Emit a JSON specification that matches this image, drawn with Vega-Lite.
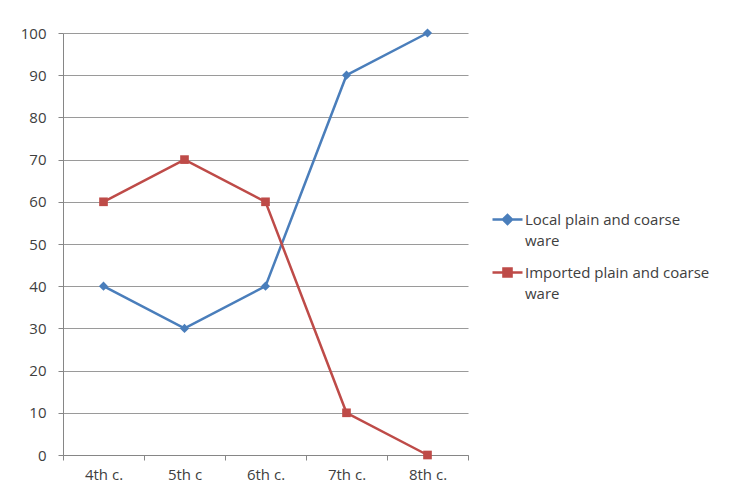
{
  "$schema": "https://vega.github.io/schema/vega-lite/v6.json",
  "width": 405,
  "height": 422,
  "autosize": {"type": "none"},
  "padding": {"left": 63, "top": 33, "right": 261, "bottom": 38},
  "background": "white",
  "config": {"view": {"stroke": null}, "font": "Open Sans",
    "legend": {"title": null, "orient": "none", "legendX": 428, "legendY": 170, "symbolSize": 900, "symbolStrokeWidth": 2.5, "symbolOpacity": 1,
      "labelFontSize": 15, "labelColor": "#404040", "labelLimit": 300, "rowPadding": 7, "labelOffset": 1, "labelBaseline": "middle"}},
  "data": {"values": [
    {"century": "4th c.", "series": "Local plain and coarse ware", "value": 40},
    {"century": "5th c", "series": "Local plain and coarse ware", "value": 30},
    {"century": "6th c.", "series": "Local plain and coarse ware", "value": 40},
    {"century": "7th c.", "series": "Local plain and coarse ware", "value": 90},
    {"century": "8th c.", "series": "Local plain and coarse ware", "value": 100},
    {"century": "4th c.", "series": "Imported plain and coarse ware", "value": 60},
    {"century": "5th c", "series": "Imported plain and coarse ware", "value": 70},
    {"century": "6th c.", "series": "Imported plain and coarse ware", "value": 60},
    {"century": "7th c.", "series": "Imported plain and coarse ware", "value": 10},
    {"century": "8th c.", "series": "Imported plain and coarse ware", "value": 0}
  ]},
  "encoding": {
    "x": {
      "field": "century", "type": "nominal", "sort": ["4th c.", "5th c", "6th c.", "7th c.", "8th c."],
      "scale": {"type": "band", "paddingInner": 0, "paddingOuter": 0},
      "axis": {"title": null, "labelAngle": 0, "tickBand": "extent", "domainColor": "#868686", "tickColor": "#868686", "tickSize": 5, "labelColor": "#404040", "labelFontSize": 15, "labelPadding": 7, "grid": false}
    },
    "y": {
      "field": "value", "type": "quantitative",
      "scale": {"domain": [0, 100], "nice": false},
      "axis": {"title": null, "values": [0, 10, 20, 30, 40, 50, 60, 70, 80, 90, 100], "domainColor": "#868686", "tickColor": "#868686", "tickSize": 5, "gridColor": "#9a9a9a", "gridWidth": 1.2, "labelColor": "#404040", "labelFontSize": 15, "labelPadding": 12}
    }
  },
  "layer": [
    {
      "mark": {"type": "line", "strokeWidth": 2.5},
      "encoding": {
        "color": {"field": "series", "type": "nominal",
          "scale": {"domain": ["Local plain and coarse ware", "Imported plain and coarse ware"], "range": ["#4a7ebb", "#be4b48"]}}
      }
    },
    {
      "transform": [{"filter": "datum.series == 'Local plain and coarse ware'"}],
      "mark": {"type": "point", "shape": "diamond", "filled": true, "size": 85, "opacity": 1, "color": "#4a7ebb"}
    },
    {
      "transform": [{"filter": "datum.series == 'Imported plain and coarse ware'"}],
      "mark": {"type": "point", "shape": "square", "filled": true, "size": 75, "opacity": 1, "color": "#be4b48"}
    },
    {
      "mark": {"type": "point", "filled": true, "opacity": 0},
      "encoding": {
        "color": {"field": "series", "type": "nominal",
          "scale": {"domain": ["Local plain and coarse ware", "Imported plain and coarse ware"], "range": ["#4a7ebb", "#be4b48"]},
          "legend": {"labelExpr": "datum.label == 'Local plain and coarse ware' ? ['Local plain and coarse', 'ware'] : ['Imported plain and coarse', 'ware']",
            "encode": {"labels": {"update": {"lineHeight": {"value": 21}}}}}},
        "stroke": {"field": "series", "type": "nominal",
          "scale": {"domain": ["Local plain and coarse ware", "Imported plain and coarse ware"], "range": ["#4a7ebb", "#be4b48"]},
          "legend": {"labelExpr": "datum.label == 'Local plain and coarse ware' ? ['Local plain and coarse', 'ware'] : ['Imported plain and coarse', 'ware']",
            "encode": {"labels": {"update": {"lineHeight": {"value": 21}}}}}},
        "shape": {"field": "series", "type": "nominal",
          "scale": {"domain": ["Local plain and coarse ware", "Imported plain and coarse ware"],
            "range": ["M-1,0H1M-0.3,0L0,-0.3L0.3,0L0,0.3Z", "M-1,0H1M-0.27,-0.27H0.27V0.27H-0.27Z"]},
          "legend": {"labelExpr": "datum.label == 'Local plain and coarse ware' ? ['Local plain and coarse', 'ware'] : ['Imported plain and coarse', 'ware']",
            "encode": {"labels": {"update": {"lineHeight": {"value": 21}}}}}}
      }
    }
  ]
}
